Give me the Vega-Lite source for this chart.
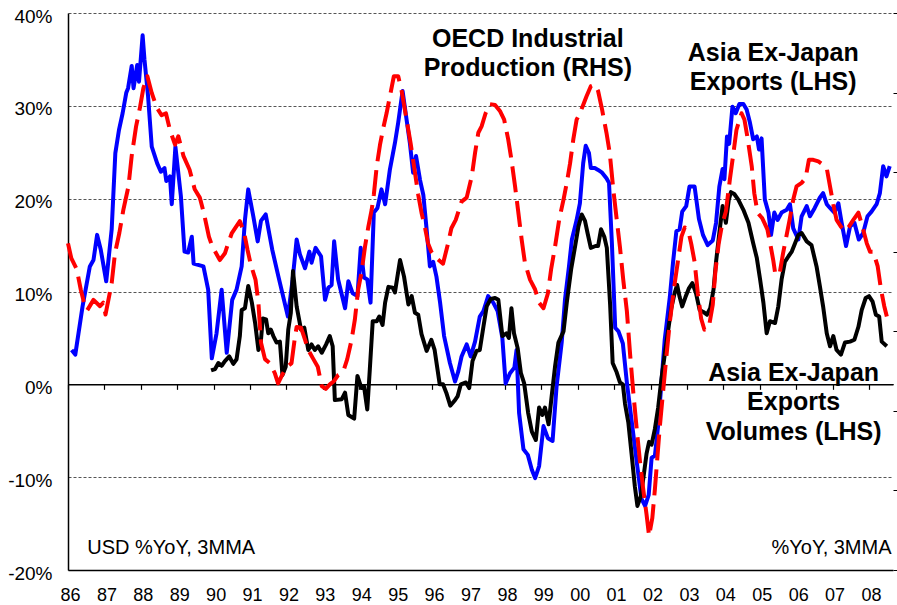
{
  "$schema": "https://vega.github.io/schema/vega-lite/v6.json",
  "width": 825,
  "height": 557,
  "autosize": {"type": "none"},
  "padding": {"left": 68, "top": 13, "right": 4, "bottom": 35},
  "background": "#ffffff",
  "config": {"view": {"stroke": null}, "font": "Liberation Sans", "axis": {"labelFont": "Liberation Sans", "labelColor": "#000000"}},
  "datasets": {
    "blue": [
      {"year":1986.10,"pct":3.7},{"year":1986.20,"pct":3.2},{"year":1986.40,"pct":8.4},{"year":1986.60,"pct":12.7},{"year":1986.70,"pct":13.4},{"year":1986.80,"pct":16.1},{"year":1986.90,"pct":14.5},{"year":1987.05,"pct":11.1},{"year":1987.20,"pct":16.7},{"year":1987.30,"pct":24.9},{"year":1987.40,"pct":27.4},{"year":1987.50,"pct":29.2},{"year":1987.60,"pct":31.4},{"year":1987.65,"pct":31.9},{"year":1987.75,"pct":34.3},{"year":1987.80,"pct":31.9},{"year":1987.90,"pct":34.4},{"year":1987.95,"pct":32.6},{"year":1988.05,"pct":37.6},{"year":1988.10,"pct":35.0},{"year":1988.20,"pct":31.0},{"year":1988.30,"pct":25.6},{"year":1988.45,"pct":23.8},{"year":1988.55,"pct":22.9},{"year":1988.65,"pct":23.3},{"year":1988.70,"pct":21.9},{"year":1988.80,"pct":22.4},{"year":1988.85,"pct":19.4},{"year":1988.95,"pct":25.6},{"year":1989.10,"pct":20.3},{"year":1989.20,"pct":14.3},{"year":1989.30,"pct":14.2},{"year":1989.40,"pct":15.9},{"year":1989.45,"pct":13.0},{"year":1989.72,"pct":12.7},{"year":1989.85,"pct":10.2},{"year":1989.95,"pct":2.8},{"year":1990.08,"pct":5.5},{"year":1990.22,"pct":10.2},{"year":1990.36,"pct":3.4},{"year":1990.51,"pct":9.1},{"year":1990.63,"pct":10.2},{"year":1990.77,"pct":12.7},{"year":1990.86,"pct":17.7},{"year":1990.95,"pct":21.0},{"year":1991.09,"pct":18.1},{"year":1991.21,"pct":15.4},{"year":1991.30,"pct":17.6},{"year":1991.43,"pct":18.3},{"year":1991.61,"pct":14.5},{"year":1991.78,"pct":11.6},{"year":1992.04,"pct":7.3},{"year":1992.17,"pct":11.3},{"year":1992.28,"pct":15.6},{"year":1992.37,"pct":14.0},{"year":1992.51,"pct":12.5},{"year":1992.63,"pct":14.3},{"year":1992.69,"pct":13.1},{"year":1992.80,"pct":14.7},{"year":1992.95,"pct":13.8},{"year":1993.06,"pct":9.1},{"year":1993.15,"pct":10.4},{"year":1993.24,"pct":10.7},{"year":1993.31,"pct":15.4},{"year":1993.42,"pct":11.3},{"year":1993.61,"pct":8.2},{"year":1993.70,"pct":11.1},{"year":1993.82,"pct":9.8},{"year":1993.95,"pct":9.5},{"year":1994.04,"pct":14.7},{"year":1994.13,"pct":11.5},{"year":1994.22,"pct":11.3},{"year":1994.31,"pct":8.8},{"year":1994.40,"pct":18.5},{"year":1994.50,"pct":19.0},{"year":1994.61,"pct":21.0},{"year":1994.71,"pct":19.4},{"year":1994.84,"pct":23.1},{"year":1994.98,"pct":26.0},{"year":1995.07,"pct":28.2},{"year":1995.19,"pct":31.6},{"year":1995.30,"pct":28.5},{"year":1995.39,"pct":26.0},{"year":1995.48,"pct":22.8},{"year":1995.56,"pct":24.6},{"year":1995.67,"pct":22.0},{"year":1995.76,"pct":20.4},{"year":1995.85,"pct":16.7},{"year":1995.94,"pct":12.7},{"year":1996.03,"pct":13.2},{"year":1996.12,"pct":11.6},{"year":1996.22,"pct":8.8},{"year":1996.33,"pct":5.2},{"year":1996.49,"pct":2.3},{"year":1996.63,"pct":0.3},{"year":1996.72,"pct":1.4},{"year":1996.81,"pct":3.0},{"year":1996.95,"pct":4.3},{"year":1997.06,"pct":3.0},{"year":1997.18,"pct":4.6},{"year":1997.31,"pct":7.3},{"year":1997.41,"pct":7.9},{"year":1997.54,"pct":9.5},{"year":1997.68,"pct":8.8},{"year":1997.80,"pct":7.9},{"year":1997.93,"pct":5.0},{"year":1998.02,"pct":0.1},{"year":1998.14,"pct":1.2},{"year":1998.26,"pct":1.8},{"year":1998.32,"pct":3.7},{"year":1998.39,"pct":-3.1},{"year":1998.51,"pct":-7.0},{"year":1998.63,"pct":-7.6},{"year":1998.74,"pct":-9.2},{"year":1998.83,"pct":-10.1},{"year":1998.94,"pct":-8.8},{"year":1999.06,"pct":-4.5},{"year":1999.18,"pct":-5.8},{"year":1999.31,"pct":-6.1},{"year":1999.42,"pct":-0.2},{"year":1999.56,"pct":4.5},{"year":1999.65,"pct":9.1},{"year":1999.76,"pct":12.7},{"year":1999.84,"pct":15.6},{"year":1999.97,"pct":17.7},{"year":2000.06,"pct":19.5},{"year":2000.15,"pct":23.8},{"year":2000.22,"pct":25.7},{"year":2000.31,"pct":24.9},{"year":2000.36,"pct":23.3},{"year":2000.47,"pct":23.3},{"year":2000.56,"pct":23.1},{"year":2000.67,"pct":22.8},{"year":2000.79,"pct":22.2},{"year":2000.86,"pct":21.7},{"year":2000.94,"pct":15.1},{"year":2001.03,"pct":6.1},{"year":2001.12,"pct":5.7},{"year":2001.24,"pct":4.4},{"year":2001.35,"pct":0.2},{"year":2001.48,"pct":-3.9},{"year":2001.62,"pct":-8.3},{"year":2001.75,"pct":-12.3},{"year":2001.85,"pct":-13.1},{"year":2001.95,"pct":-11.9},{"year":2002.03,"pct":-7.9},{"year":2002.12,"pct":-7.7},{"year":2002.21,"pct":-4.4},{"year":2002.30,"pct":0.2},{"year":2002.39,"pct":4.8},{"year":2002.53,"pct":9.4},{"year":2002.62,"pct":13.2},{"year":2002.71,"pct":16.5},{"year":2002.80,"pct":16.7},{"year":2002.87,"pct":18.6},{"year":2002.98,"pct":19.2},{"year":2003.07,"pct":21.3},{"year":2003.21,"pct":21.3},{"year":2003.33,"pct":17.8},{"year":2003.44,"pct":16.1},{"year":2003.57,"pct":15.0},{"year":2003.71,"pct":15.5},{"year":2003.80,"pct":17.4},{"year":2003.89,"pct":21.3},{"year":2003.98,"pct":23.2},{"year":2004.03,"pct":22.1},{"year":2004.10,"pct":26.7},{"year":2004.16,"pct":25.9},{"year":2004.25,"pct":29.9},{"year":2004.34,"pct":29.2},{"year":2004.44,"pct":30.2},{"year":2004.55,"pct":30.2},{"year":2004.64,"pct":29.6},{"year":2004.73,"pct":28.2},{"year":2004.82,"pct":26.4},{"year":2004.92,"pct":26.7},{"year":2004.98,"pct":25.3},{"year":2005.05,"pct":26.5},{"year":2005.14,"pct":19.9},{"year":2005.24,"pct":18.5},{"year":2005.31,"pct":16.1},{"year":2005.40,"pct":18.5},{"year":2005.49,"pct":17.7},{"year":2005.60,"pct":18.5},{"year":2005.74,"pct":18.8},{"year":2005.83,"pct":19.4},{"year":2005.92,"pct":16.8},{"year":2006.06,"pct":15.6},{"year":2006.15,"pct":18.1},{"year":2006.29,"pct":19.2},{"year":2006.38,"pct":18.1},{"year":2006.51,"pct":19.0},{"year":2006.65,"pct":20.1},{"year":2006.74,"pct":20.6},{"year":2006.84,"pct":19.4},{"year":2006.93,"pct":19.0},{"year":2007.05,"pct":18.5},{"year":2007.16,"pct":19.5},{"year":2007.25,"pct":17.4},{"year":2007.37,"pct":14.9},{"year":2007.48,"pct":17.0},{"year":2007.60,"pct":17.4},{"year":2007.72,"pct":15.6},{"year":2007.84,"pct":16.3},{"year":2007.96,"pct":18.1},{"year":2008.07,"pct":18.6},{"year":2008.21,"pct":19.4},{"year":2008.30,"pct":20.6},{"year":2008.39,"pct":23.5},{"year":2008.48,"pct":22.4},{"year":2008.57,"pct":23.5}
    ],
    "black": [
      {"year":1989.93,"pct":1.5},{"year":1990.04,"pct":1.65},{"year":1990.13,"pct":2.3},{"year":1990.22,"pct":2.0},{"year":1990.31,"pct":2.5},{"year":1990.43,"pct":3.0},{"year":1990.54,"pct":2.2},{"year":1990.63,"pct":2.7},{"year":1990.72,"pct":5.2},{"year":1990.77,"pct":8.0},{"year":1990.86,"pct":8.2},{"year":1990.95,"pct":10.6},{"year":1991.05,"pct":8.8},{"year":1991.14,"pct":6.6},{"year":1991.23,"pct":3.7},{"year":1991.29,"pct":4.3},{"year":1991.35,"pct":7.1},{"year":1991.44,"pct":7.0},{"year":1991.50,"pct":5.5},{"year":1991.57,"pct":5.9},{"year":1991.64,"pct":5.2},{"year":1991.73,"pct":4.5},{"year":1991.82,"pct":4.6},{"year":1991.89,"pct":1.0},{"year":1991.98,"pct":1.9},{"year":1992.05,"pct":5.9},{"year":1992.12,"pct":7.7},{"year":1992.18,"pct":12.2},{"year":1992.28,"pct":8.4},{"year":1992.40,"pct":5.9},{"year":1992.49,"pct":6.1},{"year":1992.60,"pct":3.7},{"year":1992.69,"pct":4.3},{"year":1992.78,"pct":3.7},{"year":1992.87,"pct":4.1},{"year":1992.97,"pct":3.4},{"year":1993.09,"pct":4.3},{"year":1993.19,"pct":5.2},{"year":1993.27,"pct":4.1},{"year":1993.33,"pct":-1.7},{"year":1993.52,"pct":-1.6},{"year":1993.61,"pct":-0.9},{"year":1993.70,"pct":-3.3},{"year":1993.86,"pct":-3.7},{"year":1993.95,"pct":0.9},{"year":1994.06,"pct":-0.4},{"year":1994.13,"pct":-0.2},{"year":1994.22,"pct":-2.7},{"year":1994.29,"pct":1.6},{"year":1994.37,"pct":6.8},{"year":1994.48,"pct":6.8},{"year":1994.55,"pct":7.3},{"year":1994.64,"pct":6.4},{"year":1994.71,"pct":8.8},{"year":1994.80,"pct":10.5},{"year":1994.92,"pct":10.4},{"year":1994.98,"pct":9.9},{"year":1995.12,"pct":13.4},{"year":1995.23,"pct":11.6},{"year":1995.35,"pct":8.6},{"year":1995.44,"pct":9.5},{"year":1995.53,"pct":7.7},{"year":1995.62,"pct":7.5},{"year":1995.71,"pct":5.4},{"year":1995.85,"pct":3.6},{"year":1995.98,"pct":4.8},{"year":1996.07,"pct":3.7},{"year":1996.21,"pct":0.0},{"year":1996.30,"pct":0.0},{"year":1996.39,"pct":-0.9},{"year":1996.50,"pct":-2.3},{"year":1996.61,"pct":-1.8},{"year":1996.70,"pct":-1.3},{"year":1996.79,"pct":0.0},{"year":1996.93,"pct":0.2},{"year":1997.02,"pct":-0.4},{"year":1997.11,"pct":2.5},{"year":1997.22,"pct":3.6},{"year":1997.31,"pct":3.7},{"year":1997.41,"pct":6.2},{"year":1997.50,"pct":8.4},{"year":1997.61,"pct":9.2},{"year":1997.73,"pct":9.3},{"year":1997.82,"pct":9.1},{"year":1997.93,"pct":5.2},{"year":1998.04,"pct":5.5},{"year":1998.11,"pct":5.0},{"year":1998.18,"pct":8.2},{"year":1998.25,"pct":5.5},{"year":1998.35,"pct":3.9},{"year":1998.44,"pct":1.2},{"year":1998.53,"pct":0.1},{"year":1998.64,"pct":-3.1},{"year":1998.74,"pct":-5.1},{"year":1998.85,"pct":-6.0},{"year":1998.94,"pct":-2.5},{"year":1999.03,"pct":-3.3},{"year":1999.10,"pct":-2.5},{"year":1999.20,"pct":-4.3},{"year":1999.29,"pct":-1.1},{"year":1999.38,"pct":2.0},{"year":1999.47,"pct":4.5},{"year":1999.61,"pct":5.7},{"year":1999.70,"pct":8.8},{"year":1999.82,"pct":12.4},{"year":1999.93,"pct":14.9},{"year":2000.02,"pct":17.0},{"year":2000.11,"pct":18.3},{"year":2000.20,"pct":17.6},{"year":2000.27,"pct":16.3},{"year":2000.36,"pct":14.7},{"year":2000.49,"pct":14.9},{"year":2000.56,"pct":14.9},{"year":2000.64,"pct":16.7},{"year":2000.73,"pct":15.9},{"year":2000.80,"pct":14.7},{"year":2000.89,"pct":8.6},{"year":2000.96,"pct":2.3},{"year":2001.07,"pct":1.3},{"year":2001.16,"pct":0.2},{"year":2001.24,"pct":0.0},{"year":2001.30,"pct":-2.1},{"year":2001.39,"pct":-4.1},{"year":2001.48,"pct":-7.5},{"year":2001.57,"pct":-11.0},{"year":2001.64,"pct":-13.1},{"year":2001.73,"pct":-12.1},{"year":2001.80,"pct":-10.2},{"year":2001.89,"pct":-7.5},{"year":2001.96,"pct":-6.2},{"year":2002.03,"pct":-6.5},{"year":2002.12,"pct":-4.8},{"year":2002.21,"pct":-2.5},{"year":2002.30,"pct":0.6},{"year":2002.39,"pct":3.2},{"year":2002.48,"pct":5.7},{"year":2002.57,"pct":8.2},{"year":2002.66,"pct":9.8},{"year":2002.73,"pct":10.7},{"year":2002.80,"pct":9.4},{"year":2002.87,"pct":8.4},{"year":2002.96,"pct":9.4},{"year":2003.05,"pct":10.3},{"year":2003.15,"pct":10.9},{"year":2003.25,"pct":9.8},{"year":2003.35,"pct":8.0},{"year":2003.45,"pct":7.8},{"year":2003.55,"pct":7.5},{"year":2003.64,"pct":8.2},{"year":2003.73,"pct":10.2},{"year":2003.80,"pct":13.2},{"year":2003.89,"pct":16.3},{"year":2003.98,"pct":19.2},{"year":2004.07,"pct":17.4},{"year":2004.15,"pct":19.9},{"year":2004.21,"pct":20.7},{"year":2004.30,"pct":20.5},{"year":2004.41,"pct":19.9},{"year":2004.55,"pct":18.8},{"year":2004.69,"pct":17.4},{"year":2004.82,"pct":15.2},{"year":2004.92,"pct":13.6},{"year":2005.01,"pct":11.3},{"year":2005.10,"pct":8.8},{"year":2005.19,"pct":5.5},{"year":2005.28,"pct":6.8},{"year":2005.42,"pct":6.6},{"year":2005.51,"pct":8.4},{"year":2005.60,"pct":11.3},{"year":2005.69,"pct":13.2},{"year":2005.79,"pct":13.8},{"year":2005.88,"pct":14.3},{"year":2005.97,"pct":15.2},{"year":2006.06,"pct":16.1},{"year":2006.15,"pct":16.3},{"year":2006.29,"pct":15.4},{"year":2006.42,"pct":15.0},{"year":2006.56,"pct":12.7},{"year":2006.65,"pct":10.6},{"year":2006.74,"pct":8.4},{"year":2006.84,"pct":5.5},{"year":2006.93,"pct":4.1},{"year":2007.02,"pct":5.2},{"year":2007.11,"pct":3.7},{"year":2007.23,"pct":3.2},{"year":2007.34,"pct":4.5},{"year":2007.48,"pct":4.6},{"year":2007.60,"pct":4.8},{"year":2007.71,"pct":6.2},{"year":2007.80,"pct":8.0},{"year":2007.91,"pct":9.3},{"year":2008.00,"pct":9.5},{"year":2008.10,"pct":8.9},{"year":2008.19,"pct":7.5},{"year":2008.28,"pct":7.3},{"year":2008.35,"pct":4.6},{"year":2008.49,"pct":4.1}
    ],
    "red": [
      {"year":1986.00,"pct":0.21},{"year":1986.09,"pct":-0.16},{"year":1986.24,"pct":-0.44},{"year":1986.35,"pct":-0.95},{"year":1986.44,"pct":-1.28},{"year":1986.53,"pct":-1.47},{"year":1986.70,"pct":-1.21},{"year":1986.88,"pct":-1.37},{"year":1986.97,"pct":-1.28},{"year":1987.03,"pct":-1.58},{"year":1987.11,"pct":-1.21},{"year":1987.20,"pct":-0.79},{"year":1987.29,"pct":-0.04},{"year":1987.41,"pct":0.47},{"year":1987.52,"pct":1.05},{"year":1987.66,"pct":1.64},{"year":1987.75,"pct":2.41},{"year":1987.87,"pct":3.15},{"year":1987.98,"pct":3.64},{"year":1988.07,"pct":4.11},{"year":1988.18,"pct":4.41},{"year":1988.30,"pct":3.99},{"year":1988.44,"pct":3.62},{"year":1988.57,"pct":3.43},{"year":1988.69,"pct":3.48},{"year":1988.80,"pct":3.06},{"year":1988.94,"pct":2.69},{"year":1989.03,"pct":2.90},{"year":1989.17,"pct":2.41},{"year":1989.34,"pct":2.06},{"year":1989.48,"pct":1.57},{"year":1989.62,"pct":1.36},{"year":1989.73,"pct":0.98},{"year":1989.87,"pct":0.38},{"year":1989.96,"pct":0.14},{"year":1990.17,"pct":-0.21},{"year":1990.31,"pct":-0.04},{"year":1990.40,"pct":0.21},{"year":1990.50,"pct":0.47},{"year":1990.72,"pct":0.77},{"year":1990.84,"pct":0.47},{"year":1990.93,"pct":0.05},{"year":1991.02,"pct":-0.32},{"year":1991.15,"pct":-0.70},{"year":1991.23,"pct":-1.28},{"year":1991.30,"pct":-2.28},{"year":1991.41,"pct":-2.70},{"year":1991.54,"pct":-2.80},{"year":1991.68,"pct":-3.05},{"year":1991.77,"pct":-3.31},{"year":1991.88,"pct":-3.10},{"year":1992.00,"pct":-2.91},{"year":1992.14,"pct":-2.80},{"year":1992.23,"pct":-2.17},{"year":1992.28,"pct":-1.89},{"year":1992.40,"pct":-1.91},{"year":1992.51,"pct":-2.21},{"year":1992.60,"pct":-2.47},{"year":1992.74,"pct":-2.70},{"year":1992.86,"pct":-2.89},{"year":1992.97,"pct":-3.38},{"year":1993.08,"pct":-3.45},{"year":1993.20,"pct":-3.33},{"year":1993.30,"pct":-3.26},{"year":1993.42,"pct":-3.10},{"year":1993.56,"pct":-3.01},{"year":1993.67,"pct":-2.70},{"year":1993.79,"pct":-2.21},{"year":1993.88,"pct":-1.70},{"year":1993.97,"pct":-0.95},{"year":1994.06,"pct":-0.53},{"year":1994.16,"pct":0.14},{"year":1994.25,"pct":0.63},{"year":1994.34,"pct":1.05},{"year":1994.40,"pct":1.43},{"year":1994.48,"pct":2.15},{"year":1994.57,"pct":2.69},{"year":1994.66,"pct":3.11},{"year":1994.75,"pct":3.48},{"year":1994.84,"pct":3.90},{"year":1994.95,"pct":4.41},{"year":1995.07,"pct":4.41},{"year":1995.16,"pct":4.06},{"year":1995.30,"pct":3.32},{"year":1995.41,"pct":2.73},{"year":1995.53,"pct":1.99},{"year":1995.62,"pct":1.43},{"year":1995.71,"pct":0.98},{"year":1995.80,"pct":0.63},{"year":1995.89,"pct":0.21},{"year":1995.98,"pct":0.00},{"year":1996.12,"pct":-0.16},{"year":1996.30,"pct":-0.30},{"year":1996.44,"pct":0.21},{"year":1996.53,"pct":0.59},{"year":1996.65,"pct":0.80},{"year":1996.81,"pct":1.26},{"year":1996.95,"pct":1.36},{"year":1997.09,"pct":1.89},{"year":1997.18,"pct":2.48},{"year":1997.27,"pct":2.99},{"year":1997.36,"pct":3.15},{"year":1997.47,"pct":3.48},{"year":1997.59,"pct":3.71},{"year":1997.73,"pct":3.69},{"year":1997.87,"pct":3.53},{"year":1997.98,"pct":3.32},{"year":1998.09,"pct":2.83},{"year":1998.18,"pct":2.31},{"year":1998.28,"pct":1.64},{"year":1998.37,"pct":0.98},{"year":1998.46,"pct":0.31},{"year":1998.55,"pct":-0.28},{"year":1998.69,"pct":-0.70},{"year":1998.83,"pct":-0.95},{"year":1998.94,"pct":-1.28},{"year":1999.06,"pct":-1.42},{"year":1999.18,"pct":-1.05},{"year":1999.27,"pct":-0.44},{"year":1999.38,"pct":0.14},{"year":1999.49,"pct":0.80},{"year":1999.61,"pct":1.31},{"year":1999.70,"pct":1.73},{"year":1999.79,"pct":2.22},{"year":1999.88,"pct":2.83},{"year":1999.97,"pct":3.32},{"year":2000.06,"pct":3.48},{"year":2000.15,"pct":3.69},{"year":2000.24,"pct":3.90},{"year":2000.36,"pct":4.16},{"year":2000.47,"pct":4.20},{"year":2000.56,"pct":4.04},{"year":2000.67,"pct":3.57},{"year":2000.79,"pct":2.99},{"year":2000.88,"pct":2.48},{"year":2000.98,"pct":1.54},{"year":2001.07,"pct":0.82},{"year":2001.16,"pct":0.12},{"year":2001.25,"pct":-0.70},{"year":2001.35,"pct":-1.49},{"year":2001.44,"pct":-2.59},{"year":2001.53,"pct":-3.57},{"year":2001.62,"pct":-4.45},{"year":2001.71,"pct":-5.27},{"year":2001.80,"pct":-5.97},{"year":2001.89,"pct":-6.60},{"year":2001.96,"pct":-7.14},{"year":2002.05,"pct":-6.69},{"year":2002.12,"pct":-5.97},{"year":2002.18,"pct":-5.27},{"year":2002.25,"pct":-4.45},{"year":2002.35,"pct":-3.47},{"year":2002.44,"pct":-2.59},{"year":2002.53,"pct":-1.77},{"year":2002.64,"pct":-0.95},{"year":2002.75,"pct":-0.25},{"year":2002.85,"pct":0.38},{"year":2002.94,"pct":0.61},{"year":2003.04,"pct":0.52},{"year":2003.12,"pct":0.19},{"year":2003.21,"pct":-0.25},{"year":2003.30,"pct":-1.05},{"year":2003.39,"pct":-1.68},{"year":2003.48,"pct":-1.96},{"year":2003.60,"pct":-1.91},{"year":2003.71,"pct":-1.33},{"year":2003.78,"pct":-0.51},{"year":2003.87,"pct":0.19},{"year":2003.96,"pct":0.66},{"year":2004.07,"pct":1.01},{"year":2004.18,"pct":1.82},{"year":2004.27,"pct":2.43},{"year":2004.36,"pct":3.06},{"year":2004.45,"pct":3.34},{"year":2004.50,"pct":3.48},{"year":2004.58,"pct":3.32},{"year":2004.67,"pct":2.83},{"year":2004.78,"pct":2.15},{"year":2004.85,"pct":1.47},{"year":2004.94,"pct":0.98},{"year":2005.07,"pct":0.84},{"year":2005.21,"pct":0.56},{"year":2005.30,"pct":0.14},{"year":2005.37,"pct":-0.21},{"year":2005.43,"pct":-0.58},{"year":2005.55,"pct":-0.53},{"year":2005.64,"pct":-0.04},{"year":2005.73,"pct":0.38},{"year":2005.82,"pct":0.80},{"year":2005.92,"pct":1.31},{"year":2006.01,"pct":1.64},{"year":2006.15,"pct":1.73},{"year":2006.26,"pct":1.85},{"year":2006.35,"pct":2.31},{"year":2006.47,"pct":2.31},{"year":2006.61,"pct":2.27},{"year":2006.72,"pct":2.20},{"year":2006.84,"pct":2.10},{"year":2006.93,"pct":1.64},{"year":2007.02,"pct":1.19},{"year":2007.11,"pct":0.80},{"year":2007.23,"pct":0.63},{"year":2007.34,"pct":0.52},{"year":2007.45,"pct":0.63},{"year":2007.57,"pct":0.80},{"year":2007.71,"pct":0.98},{"year":2007.82,"pct":0.63},{"year":2007.94,"pct":0.21},{"year":2008.03,"pct":0.00},{"year":2008.12,"pct":0.00},{"year":2008.24,"pct":-0.37},{"year":2008.33,"pct":-0.95},{"year":2008.42,"pct":-1.37},{"year":2008.49,"pct":-1.63}
    ],
    "titles": [
      {"year":1998.63,"pct":36.37,"label":"OECD Industrial\nProduction (RHS)"},
      {"year":2005.37,"pct":34.83,"label":"Asia Ex-Japan\nExports (LHS)"},
      {"year":2005.93,"pct":0.36,"label":"Asia Ex-Japan\nExports\nVolumes (LHS)"}
    ],
    "noteLeft": [{"year":1986.53,"pct":-18.25,"label":"USD %YoY, 3MMA"}],
    "noteRight": [{"year":2008.62,"pct":-18.25,"label":"%YoY, 3MMA"}]
  },
  "layer": [
    {
      "data": {"name": "blue"},
      "mark": {"type": "line", "color": "#0000ff", "strokeWidth": 4, "strokeJoin": "round"},
      "encoding": {
        "x": {"field": "year", "type": "quantitative", "scale": {"domain": [1986, 2008.66], "nice": false, "zero": false},
          "axis": {"orient": "bottom", "values": [1986,1987,1988,1989,1990,1991,1992,1993,1994,1995,1996,1997,1998,1999,2000,2001,2002,2003,2004,2005,2006,2007,2008],
            "labelExpr": "substring(toString(datum.value), 2, 4)", "ticks": false, "tickSize": 0, "grid": false, "domain": true, "domainColor": "#000000", "domainWidth": 1.5,
            "labelFontSize": 18, "labelPadding": 16, "labelOffset": 2, "labelFlush": false, "labelOverlap": false, "title": null}},
        "y": {"field": "pct", "type": "quantitative", "scale": {"domain": [-20, 40], "nice": false, "zero": false},
          "axis": {"orient": "left", "values": [-20,-10,0,10,20,30,40], "labelExpr": "datum.value + '%'", "ticks": false, "tickSize": 0,
            "domain": true, "domainColor": "#000000", "domainWidth": 1.5, "grid": true,
            "gridColor": {"condition": {"test": "datum.value === 0", "value": "#000000"}, "value": "#555555"},
            "gridDash": {"condition": {"test": "datum.value === 0", "value": []}, "value": [3, 2]},
            "gridWidth": 1, "labelFontSize": 19, "labelPadding": 16, "labelOffset": 3, "labelFlush": false, "labelOverlap": false, "title": null}}
      }
    },
    {
      "data": {"name": "black"},
      "mark": {"type": "line", "color": "#000000", "strokeWidth": 4, "strokeJoin": "round"},
      "encoding": {
        "x": {"field": "year", "type": "quantitative", "scale": {"domain": [1986, 2008.66], "nice": false, "zero": false},
          "axis": {"orient": "bottom", "offset": -185.67, "values": [1986,1987,1988,1989,1990,1991,1992,1993,1994,1995,1996,1997,1998,1999,2000,2001,2002,2003,2004,2005,2006,2007,2008],
            "labels": false, "ticks": true, "tickSize": 5, "tickColor": "#000000", "tickWidth": 1.2, "domain": true, "domainColor": "#000000", "domainWidth": 1.5, "grid": false, "title": null}},
        "y": {"field": "pct", "type": "quantitative", "scale": {"domain": [-20, 40], "nice": false, "zero": false}, "axis": null}
      }
    },
    {
      "data": {"name": "red"},
      "mark": {"type": "line", "color": "#ff0000", "strokeWidth": 4, "strokeDash": [26, 9], "strokeCap": "butt", "strokeJoin": "round"},
      "encoding": {
        "x": {"field": "year", "type": "quantitative", "scale": {"domain": [1986, 2008.66], "nice": false, "zero": false}, "axis": null},
        "y": {"field": "pct", "type": "quantitative", "scale": {"domain": [-8, 6], "nice": false, "zero": false},
          "axis": {"orient": "right", "values": [-8,-6,-4,-2,0,2,4,6], "labels": false, "domain": false, "grid": false, "ticks": true, "tickSize": 5, "tickColor": "#000000", "tickWidth": 1, "title": null}}
      }
    },
    {
      "data": {"name": "titles"},
      "mark": {"type": "text", "font": "Liberation Sans", "fontWeight": "bold", "fontSize": 25, "align": "center", "baseline": "alphabetic", "lineBreak": "\n", "lineHeight": 29.5, "color": "#000000"},
      "encoding": {
        "x": {"field": "year", "type": "quantitative", "scale": {"domain": [1986, 2008.66], "nice": false, "zero": false}, "axis": null},
        "y": {"field": "pct", "type": "quantitative", "scale": {"domain": [-20, 40], "nice": false, "zero": false}, "axis": null},
        "text": {"field": "label"}
      }
    },
    {
      "data": {"name": "noteLeft"},
      "mark": {"type": "text", "font": "Liberation Sans", "fontSize": 20, "align": "left", "baseline": "alphabetic", "color": "#000000"},
      "encoding": {
        "x": {"field": "year", "type": "quantitative", "scale": {"domain": [1986, 2008.66], "nice": false, "zero": false}, "axis": null},
        "y": {"field": "pct", "type": "quantitative", "scale": {"domain": [-20, 40], "nice": false, "zero": false}, "axis": null},
        "text": {"field": "label"}
      }
    },
    {
      "data": {"name": "noteRight"},
      "mark": {"type": "text", "font": "Liberation Sans", "fontSize": 20, "align": "right", "baseline": "alphabetic", "color": "#000000"},
      "encoding": {
        "x": {"field": "year", "type": "quantitative", "scale": {"domain": [1986, 2008.66], "nice": false, "zero": false}, "axis": null},
        "y": {"field": "pct", "type": "quantitative", "scale": {"domain": [-20, 40], "nice": false, "zero": false}, "axis": null},
        "text": {"field": "label"}
      }
    }
  ],
  "resolve": {"scale": {"y": "independent"}, "axis": {"x": "independent", "y": "independent"}}
}
